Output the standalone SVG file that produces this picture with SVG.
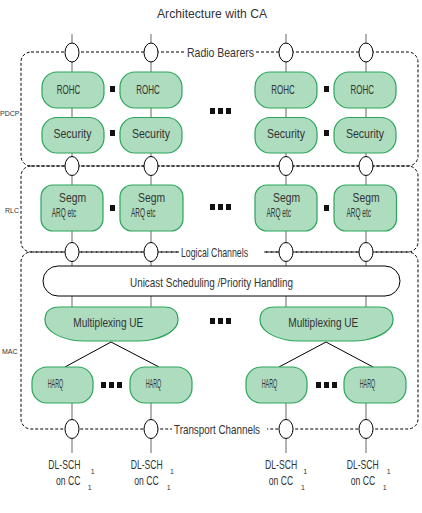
<svg xmlns="http://www.w3.org/2000/svg" width="422" height="513" viewBox="0 0 422 513">
<style>
.t{font-family:"Liberation Sans",Arial,sans-serif;font-size:13px;fill:#333}
.d{font-family:"Liberation Sans",Arial,sans-serif;font-size:12px;fill:#333}
.s{font-family:"Liberation Sans",Arial,sans-serif;font-size:7px;fill:#333}
.g{fill:#aedcbe;stroke:#2aa55a;stroke-width:1.2}
.w{fill:#fff;stroke:#000;stroke-width:1}
.ov{fill:#fff;stroke:#000;stroke-width:1}
.dash{fill:none;stroke:#000;stroke-width:1;stroke-dasharray:3 2}
.vl{stroke:#8a8a8a;stroke-width:1.3;fill:none}
.bl{stroke:#000;stroke-width:1;fill:none}
.sq{fill:#111}
.bg{fill:#fff}
</style>
<rect width="422" height="513" fill="#fff"/>
<text class="t" x="157" y="18" font-size="14.5" textLength="110" lengthAdjust="spacingAndGlyphs">Architecture with CA</text>

<g id="layer-boxes">
<rect class="dash" x="21" y="52" width="397" height="114" rx="10"/>
<rect class="dash" x="21" y="166" width="397" height="86" rx="10"/>
<rect class="dash" x="21" y="252" width="397" height="177" rx="10"/>
<text class="s" x="0" y="116">PDCP</text>
<text class="s" x="5" y="213">RLC</text>
<text class="s" x="2" y="354">MAC</text>
</g>

<g id="connectors">
<line class="vl" x1="72" y1="34" x2="72" y2="307"/>
<line class="vl" x1="151" y1="34" x2="151" y2="307"/>
<line class="vl" x1="286" y1="34" x2="286" y2="307"/>
<line class="vl" x1="366" y1="34" x2="366" y2="307"/>
<line class="vl" x1="72" y1="403" x2="72" y2="453"/>
<line class="vl" x1="151" y1="403" x2="151" y2="453"/>
<line class="vl" x1="286" y1="403" x2="286" y2="453"/>
<line class="vl" x1="366" y1="403" x2="366" y2="453"/>
<line class="bl" x1="111" y1="342" x2="65" y2="367"/>
<line class="bl" x1="111" y1="342" x2="159" y2="367"/>
<line class="bl" x1="326" y1="342" x2="279" y2="367"/>
<line class="bl" x1="326" y1="342" x2="373" y2="367"/>
</g>

<g id="channel-labels">
<rect class="bg" x="184" y="45" width="72" height="14"/>
<text class="t" x="187" y="57" textLength="67" lengthAdjust="spacingAndGlyphs">Radio Bearers</text>
<rect class="bg" x="179" y="245" width="85" height="14"/>
<text class="t" x="181" y="256.5" textLength="67" lengthAdjust="spacingAndGlyphs">Logical Channels</text>
<rect class="bg" x="172" y="422" width="95" height="14"/>
<text class="t" x="174" y="433.5" textLength="86" lengthAdjust="spacingAndGlyphs">Transport Channels</text>
</g>

<g id="ovals">
<ellipse class="ov" cx="72" cy="52.5" rx="7" ry="9.5"/>
<ellipse class="ov" cx="151" cy="52.5" rx="7" ry="9.5"/>
<ellipse class="ov" cx="286" cy="52.5" rx="7" ry="9.5"/>
<ellipse class="ov" cx="366" cy="52.5" rx="7" ry="9.5"/>
<ellipse class="ov" cx="72" cy="166" rx="7" ry="9.5"/>
<ellipse class="ov" cx="151" cy="166" rx="7" ry="9.5"/>
<ellipse class="ov" cx="286" cy="166" rx="7" ry="9.5"/>
<ellipse class="ov" cx="366" cy="166" rx="7" ry="9.5"/>
<ellipse class="ov" cx="72" cy="252" rx="7" ry="9.5"/>
<ellipse class="ov" cx="151" cy="252" rx="7" ry="9.5"/>
<ellipse class="ov" cx="286" cy="252" rx="7" ry="9.5"/>
<ellipse class="ov" cx="366" cy="252" rx="7" ry="9.5"/>
<ellipse class="ov" cx="72" cy="429" rx="7" ry="9.5"/>
<ellipse class="ov" cx="151" cy="429" rx="7" ry="9.5"/>
<ellipse class="ov" cx="286" cy="429" rx="7" ry="9.5"/>
<ellipse class="ov" cx="366" cy="429" rx="7" ry="9.5"/>
</g>

<g id="rohc-1"><rect class="g" x="42" y="72" width="62" height="36" rx="15"/><text class="t" x="56.7" y="94" textLength="23.5" lengthAdjust="spacingAndGlyphs">ROHC</text></g>
<g id="rohc-2"><rect class="g" x="120" y="72" width="62" height="36" rx="15"/><text class="t" x="136.3" y="94" textLength="23.5" lengthAdjust="spacingAndGlyphs">ROHC</text></g>
<g id="rohc-3"><rect class="g" x="255" y="72" width="62" height="36" rx="15"/><text class="t" x="271.3" y="94" textLength="23.5" lengthAdjust="spacingAndGlyphs">ROHC</text></g>
<g id="rohc-4"><rect class="g" x="334" y="72" width="62" height="36" rx="15"/><text class="t" x="350.5" y="94" textLength="23.5" lengthAdjust="spacingAndGlyphs">ROHC</text></g>

<g id="security-1"><rect class="g" x="42" y="117.5" width="62" height="35.5" rx="15"/><text class="t" x="53.5" y="138" textLength="38" lengthAdjust="spacingAndGlyphs">Security</text></g>
<g id="security-2"><rect class="g" x="120" y="117.5" width="62" height="35.5" rx="15"/><text class="t" x="132" y="138" textLength="38" lengthAdjust="spacingAndGlyphs">Security</text></g>
<g id="security-3"><rect class="g" x="255" y="117.5" width="62" height="35.5" rx="15"/><text class="t" x="267" y="138" textLength="38" lengthAdjust="spacingAndGlyphs">Security</text></g>
<g id="security-4"><rect class="g" x="334" y="117.5" width="62" height="35.5" rx="15"/><text class="t" x="346" y="138" textLength="38" lengthAdjust="spacingAndGlyphs">Security</text></g>

<g id="pdcp-dots">
<rect class="sq" x="110" y="86" width="5" height="6"/>
<rect class="sq" x="110" y="130" width="5" height="6"/>
<rect class="sq" x="324" y="86" width="5" height="6"/>
<rect class="sq" x="324" y="130" width="5" height="6"/>
<rect class="sq" x="210" y="108" width="5" height="6"/>
<rect class="sq" x="218" y="108" width="5" height="6"/>
<rect class="sq" x="226" y="108" width="5" height="6"/>
</g>

<g id="segm-1"><rect class="g" x="41" y="185" width="62" height="46" rx="12"/><text class="t" x="59" y="201.5" textLength="27" lengthAdjust="spacingAndGlyphs">Segm</text><text class="t" x="51.7" y="217.3" textLength="24.5" lengthAdjust="spacingAndGlyphs">ARQ etc</text></g>
<g id="segm-2"><rect class="g" x="120" y="185" width="63" height="46" rx="12"/><text class="t" x="138" y="201.5" textLength="27" lengthAdjust="spacingAndGlyphs">Segm</text><text class="t" x="131" y="217.3" textLength="24.5" lengthAdjust="spacingAndGlyphs">ARQ etc</text></g>
<g id="segm-3"><rect class="g" x="255" y="185" width="62" height="46" rx="12"/><text class="t" x="273" y="201.5" textLength="27" lengthAdjust="spacingAndGlyphs">Segm</text><text class="t" x="266.5" y="217.3" textLength="24.5" lengthAdjust="spacingAndGlyphs">ARQ etc</text></g>
<g id="segm-4"><rect class="g" x="334" y="185" width="62.5" height="46" rx="12"/><text class="t" x="352.5" y="201.5" textLength="27" lengthAdjust="spacingAndGlyphs">Segm</text><text class="t" x="346.5" y="217.3" textLength="24.5" lengthAdjust="spacingAndGlyphs">ARQ etc</text></g>

<g id="rlc-dots">
<rect class="sq" x="110" y="205" width="5" height="6"/>
<rect class="sq" x="324" y="205" width="5" height="6"/>
<rect class="sq" x="210" y="204" width="5" height="6"/>
<rect class="sq" x="218" y="204" width="5" height="6"/>
<rect class="sq" x="226" y="204" width="5" height="6"/>
</g>

<g id="unicast-scheduling"><rect class="w" x="43" y="266" width="357" height="30" rx="15"/><text class="t" x="130" y="286.7" textLength="163" lengthAdjust="spacingAndGlyphs">Unicast Scheduling /Priority Handling</text></g>

<g id="mux-1"><path class="g" d="M60 307 L164 307 C174 307 178 312 178 320 C178 330 165 337 150 340 Q145 341 138 341 L84 341 Q77 341 72 340 C57 337 45 330 45 320 C45 312 50 307 60 307 Z"/><text class="t" x="73.3" y="326.7" textLength="70" lengthAdjust="spacingAndGlyphs">Multiplexing UE</text></g>
<g id="mux-2"><path class="g" transform="translate(215 0)" d="M60 307 L164 307 C174 307 178 312 178 320 C178 330 165 337 150 340 Q145 341 138 341 L84 341 Q77 341 72 340 C57 337 45 330 45 320 C45 312 50 307 60 307 Z"/><text class="t" x="288.3" y="326.7" textLength="70" lengthAdjust="spacingAndGlyphs">Multiplexing UE</text></g>

<g id="mac-dots">
<rect class="sq" x="210" y="318" width="5" height="6"/>
<rect class="sq" x="218" y="318" width="5" height="6"/>
<rect class="sq" x="226" y="318" width="5" height="6"/>
<rect class="sq" x="101" y="382" width="5" height="6"/>
<rect class="sq" x="109" y="382" width="5" height="6"/>
<rect class="sq" x="117" y="382" width="5" height="6"/>
<rect class="sq" x="316" y="382" width="5" height="6"/>
<rect class="sq" x="324" y="382" width="5" height="6"/>
<rect class="sq" x="332" y="382" width="5" height="6"/>
</g>

<g id="harq-1"><rect class="g" x="32" y="367" width="61" height="36" rx="15"/><text class="t" x="47.7" y="388.3" textLength="15.5" lengthAdjust="spacingAndGlyphs">HARQ</text></g>
<g id="harq-2"><rect class="g" x="130" y="367" width="62" height="36" rx="15"/><text class="t" x="145.7" y="388.3" textLength="15.5" lengthAdjust="spacingAndGlyphs">HARQ</text></g>
<g id="harq-3"><rect class="g" x="246" y="367" width="61" height="36" rx="15"/><text class="t" x="261.7" y="388.3" textLength="15.5" lengthAdjust="spacingAndGlyphs">HARQ</text></g>
<g id="harq-4"><rect class="g" x="344" y="367" width="62" height="36" rx="15"/><text class="t" x="359.7" y="388.3" textLength="15.5" lengthAdjust="spacingAndGlyphs">HARQ</text></g>

<g id="dlsch-1"><text class="d" transform="matrix(0.72 0 0 1 48.3 469)">DL-SCH</text><text class="d" transform="matrix(0.72 0 0 1 56 485)">on CC</text><text class="s" x="90.7" y="474">1</text><text class="s" x="87.7" y="490">1</text></g>
<g id="dlsch-2"><text class="d" transform="matrix(0.72 0 0 1 130.7 469)">DL-SCH</text><text class="d" transform="matrix(0.72 0 0 1 134.3 485)">on CC</text><text class="s" x="170" y="474">1</text><text class="s" x="166.7" y="490">1</text></g>
<g id="dlsch-3"><text class="d" transform="matrix(0.72 0 0 1 265 469)">DL-SCH</text><text class="d" transform="matrix(0.72 0 0 1 268.7 485)">on CC</text><text class="s" x="303.3" y="474">1</text><text class="s" x="301" y="490">1</text></g>
<g id="dlsch-4"><text class="d" transform="matrix(0.72 0 0 1 346.7 469)">DL-SCH</text><text class="d" transform="matrix(0.72 0 0 1 350.7 485)">on CC</text><text class="s" x="386.7" y="474">1</text><text class="s" x="382.7" y="490">1</text></g>
</svg>
